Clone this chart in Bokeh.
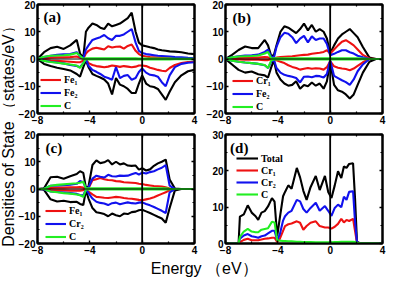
from bokeh.plotting import figure
from bokeh.layouts import row, column
from bokeh.models import (Range1d, FixedTicker, LinearAxis, Span, Label, Legend,
                          LegendItem, CustomJSTickFormatter)
from bokeh.embed import file_html
from bokeh.resources import INLINE

# ---------------- data ----------------
X_TICKS = [-8, -4, 0, 4]
X_MINOR = [-6, -2, 2]
Y_TICKS_SPIN = [-20, -10, 0, 10, 20]
Y_MINOR_SPIN = [-15, -5, 5, 15]
Y_TICKS_D = [0, 10, 20, 30]
Y_MINOR_D = [5, 15, 25]

# panels (a)-(c): common energy grid (eV)
E_ABC = [-8, -7.5, -7, -6.5, -6, -5.5, -5, -4.75, -4.5, -4.3, -4.1, -3.8, -3.5, -3.2,
         -2.9, -2.6, -2.3, -2.0, -1.7, -1.4, -1.1, -0.8, -0.5, -0.25, 0, 0.3, 0.6,
         0.9, 1.2, 1.5, 1.8, 2.1, 2.5, 3, 3.5, 4]

# (a)
a_total_up = [0, 2.5, 4, 4.5, 3.7, 5, 7, 2, 0.5, 10, 11.5, 13, 12.5, 11.5, 11, 13, 12, 12.5,
              13, 14, 15, 17, 10, 6, 5, 4.7, 4.3, 4, 3.5, 3.2, 3, 2.8, 2.7, 2.5, 2, 1.8]
a_total_dn = [0, -1.8, -2.6, -3.2, -3.7, -4.2, -5.5, -6.5, -3, -0.5, -3, -5.5, -6.2, -6.8,
              -7.5, -9, -13, -7, -9.4, -10, -11, -12.5, -12.5, -9, -6, -9, -10, -10.3, -11,
              -13, -15, -12, -8.5, -6, -4.5, -4]
a_fe1_up = [0, 0.3, 0.5, 0.6, 0.6, 0.7, 0.9, 0.5, 0.1, 2, 3, 3.8, 4.1, 3.8, 3.5, 4.7, 4.2,
            4.5, 4.6, 3.8, 4.8, 5.3, 3, 1.8, 1.2, 0.9, 0.7, 0.6, 0.5, 0.5, 0.4, 0.4, 0.3,
            0.3, 0.2, 0.2]
a_fe1_dn = [0, -0.3, -0.6, -0.7, -0.8, -1, -1.2, -1.2, -0.6, 0, -1.5, -2.2, -2.6, -2.8, -3,
            -2.8, -2.4, -2.6, -2.9, -2.6, -2.8, -3, -2.8, -2.4, -2.4, -2.6, -3.2, -3.6, -4,
            -4.3, -4.5, -3.3, -2.2, -1.5, -1.1, -1]
a_fe2_up = [0, 0.7, 1.2, 1.5, 1.7, 1.8, 2.5, 1, 0.3, 3.5, 5, 7, 7.5, 8, 8.8, 7.6, 7, 8.5, 8.5,
            9, 10, 11, 6, 3, 2.2, 1.8, 1.6, 1.4, 1.2, 1.1, 1, 0.9, 0.7, 0.6, 0.4, 0.3]
a_fe2_dn = [0, -0.6, -1, -1.3, -1.6, -2.2, -2.6, -3, -1.5, 0, -2.5, -4, -4.7, -5.5, -6.5, -7,
            -7.6, -3, -7, -6.2, -5.9, -7.6, -7, -4.8, -3.5, -5, -5.8, -6, -6.5, -8.5, -10,
            -6, -3, -1.8, -1.4, -1.2]
a_c_up = [0, 0.8, 1.2, 1.3, 1.4, 1.6, 2.2, 1.2, 0.1, 0.3, 0.3, 0.3, 0.3, 0.3, 0.3, 0.3, 0.3,
          0.3, 0.3, 0.3, 0.3, 0.3, 0.3, 0.2, 0.2, 0.2, 0.2, 0.2, 0.2, 0.2, 0.2, 0.2, 0.1,
          0.1, 0.1, 0.1]
a_c_dn = [0, -0.7, -1.1, -1.4, -1.7, -2, -2.4, -3.3, -1.5, 0, -0.2, -0.2, -0.2, -0.2, -0.2,
          -0.2, -0.2, -0.2, -0.2, -0.2, -0.2, -0.2, -0.2, -0.2, -0.2, -0.2, -0.2, -0.2,
          -0.2, -0.2, -0.2, -0.2, -0.1, -0.1, -0.1, -0.1]

# (b)
b_total_up = [0, 1.5, 3.3, 4.6, 4, 4, 7, 5, 1, 1.5, 5, 10, 12, 11.5, 10.5, 9.5, 11, 13, 10.5,
              12.5, 10, 11, 10, 7.5, 2, 5, 7.5, 9, 10, 11, 9.5, 8, 4.4, 0.5, 0, 0]
b_total_dn = [0, -2, -4, -5, -4.6, -5.6, -6, -6.8, -3, -0.5, -5, -7.5, -9, -9.8, -9.5, -8.2,
              -10.9, -9.5, -10, -8.6, -9.8, -9, -10.9, -8.2, -1, -9.5, -11.5, -12, -13,
              -14.5, -13, -9.5, -5, -1, 0, 0]
b_cr1_up = [0, 0.2, 0.4, 0.5, 0.5, 0.5, 0.7, 0.6, 0.1, 0.2, 0.5, 0.7, 0.8, 0.9, 1, 1.2, 1.4,
            1.5, 1.6, 1.9, 2.1, 2.3, 2.6, 3.2, 2, 3.5, 5, 6.3, 6.9, 6, 5, 3.5, 1.5, 0.2, 0, 0]
b_cr1_dn = [0, -0.1, -0.2, -0.3, -0.3, -0.3, -0.4, -0.4, -0.1, 0, -0.5, -1, -1.5, -2.3, -2.9,
            -3.3, -3.9, -3.6, -3.3, -3.6, -3.4, -3.5, -3.9, -3, -0.8, -2.7, -3.2, -3.5, -3.7,
            -4.1, -3.5, -2.5, -1.2, 0, 0, 0]
b_fe2_up = [0, 0.6, 1, 1.3, 1.4, 1.6, 2.6, 3.4, 0.8, 0.5, 4.5, 8, 9.6, 9.3, 8, 5.8, 7.5, 8.5,
            6.1, 8.3, 7, 7.5, 7.5, 5.5, 1.4, 1.9, 2.6, 3.2, 3.2, 2.5, 2, 1.2, 0.6, 0, 0, 0]
b_fe2_dn = [0, -0.6, -1, -1.3, -1.5, -1.8, -2.3, -3.3, -1, -0.3, -3.3, -5, -5.8, -6.2, -6.5,
            -7, -8.6, -6.5, -6.4, -6.7, -6.2, -6.3, -6.8, -5.5, -0.5, -6.2, -7, -7.8, -8.5,
            -9.5, -7.5, -4.5, -2, 0, 0, 0]
b_c_up = [0, 0.6, 0.9, 1, 1.1, 1.3, 2, 2.6, 0.2, 0.3, 0.3, 0.3, 0.3, 0.3, 0.3, 0.3, 0.3, 0.3,
          0.3, 0.3, 0.3, 0.3, 0.3, 0.3, 0.3, 0.3, 0.3, 0.3, 0.3, 0.3, 0.3, 0.3, 0.2, 0, 0, 0]
b_c_dn = [0, -0.6, -1, -1.3, -1.5, -1.8, -2.2, -3.3, -0.5, -0.2, -0.2, -0.2, -0.2, -0.2, -0.2,
          -0.2, -0.2, -0.2, -0.2, -0.2, -0.2, -0.2, -0.2, -0.2, -0.2, -0.2, -0.2, -0.2, -0.2,
          -0.2, -0.2, -0.2, -0.1, 0, 0, 0]

# (c)
c_total_up = [0, 0.3, 4.3, 4.5, 3.8, 4.7, 5.5, 6.5, 5.9, 0.5, 1, 8.8, 10.5, 9.5, 9.8, 10.6, 9,
              10, 9, 9.4, 8.6, 8.5, 8.6, 7.1, 7.6, 6.8, 7.2, 8.5, 9.4, 10, 10.8, 3.5, 0.2, 0,
              0, 0]
c_total_dn = [0, -0.3, -3.8, -4.6, -4.3, -4.8, -4.7, -5.5, -5.9, -0.5, -3.5, -7, -8.5, -8.8,
              -9.2, -10, -9, -9.6, -10, -9, -9.2, -8.5, -8.3, -7.8, -7.6, -8.2, -8.8, -9.5,
              -10.2, -10.8, -12.4, -7, -0.5, 0, 0, 0]
c_fe1_up = [0, 0, 0.4, 0.5, 0.5, 0.6, 0.6, 0.7, 0.5, 0, 0.3, 3.2, 3.6, 4, 3.6, 3.3, 3.2, 2.9,
            2.8, 2.5, 2.4, 2.3, 2.2, 1.9, 1.8, 1.5, 1.3, 1.1, 1, 0.9, 0.6, 0.2, 0, 0, 0, 0]
c_fe1_dn = [0, 0, -0.4, -0.5, -0.5, -0.6, -0.6, -0.6, -0.4, 0, -1, -2, -2.9, -3, -3.2, -3.3,
            -3.1, -2.9, -3, -3.3, -3.5, -3.6, -3.8, -4, -4.1, -3.8, -3.5, -3, -2.4, -1.8,
            -1.2, -0.4, 0, 0, 0, 0]
c_cr2_up = [0, 0.1, 1.2, 1.3, 1.4, 1.6, 1.9, 2.9, 2.5, 0.2, 0.6, 3.8, 4.9, 4.5, 4.2, 5.2, 4.7,
            4.6, 4.9, 4.8, 4.9, 5.4, 5.9, 5.3, 6, 5.7, 6.2, 6.5, 7.2, 7.8, 8.8, 1.2, 0, 0, 0, 0]
c_cr2_dn = [0, -0.1, -0.9, -1.1, -1.3, -1.5, -1.8, -2.2, -2.4, -0.2, -1.5, -3.5, -4.7, -5.1,
            -5.3, -5.9, -5.2, -5, -5.6, -5.2, -4.9, -5.2, -5.3, -5, -4.9, -5.5, -6, -6.6,
            -7.3, -8, -8.8, -1.2, 0, 0, 0, 0]
c_c_up = [0, 0.1, 1.2, 1.5, 1.7, 1.9, 2.1, 2.3, 2.7, 0.2, 0.3, 0.3, 0.3, 0.3, 0.3, 0.3, 0.3,
          0.3, 0.3, 0.3, 0.3, 0.3, 0.3, 0.3, 0.3, 0.3, 0.3, 0.3, 0.3, 0.3, 0.3, 0.1, 0, 0, 0, 0]
c_c_dn = [0, 0, -0.9, -1.2, -1.5, -1.7, -2, -2.3, -2.9, -0.2, -0.2, -0.2, -0.2, -0.2, -0.2,
          -0.2, -0.2, -0.2, -0.2, -0.2, -0.2, -0.2, -0.2, -0.2, -0.2, -0.2, -0.2, -0.2, -0.2,
          -0.2, -0.2, -0.1, 0, 0, 0, 0]

# (d): non spin-polarised
E_D = [-8, -7.0, -6.9, -6.6, -6.3, -6.0, -5.7, -5.5, -5.25, -5.0, -4.75, -4.45, -4.25, -4.05,
       -3.85, -3.6, -3.45, -3.2, -2.95, -2.55, -2.3, -2.05, -1.8, -1.5, -1.1, -0.8, -0.4,
       -0.15, 0.1, 0.35, 0.6, 0.85, 1.05, 1.25, 1.45, 1.75, 1.9, 2.05, 2.3, 4]
d_total = [0, 0, 7.4, 8, 10.5, 8.5, 7.5, 6.5, 8.5, 8.9, 10.2, 12.5, 11.5, 2, 7, 13, 14.2, 16,
           15.1, 20.8, 18.2, 14.5, 12, 15.5, 18.6, 14.7, 18.6, 14.2, 12.5, 16, 19.9, 18, 21.2,
           20.8, 21.9, 22.1, 12.5, 0.5, 0, 0]
d_cr1 = [0, 0, 0.4, 1, 1.3, 0.9, 0.9, 0.9, 1.1, 1.3, 1.4, 1.6, 1.6, 0.4, 1.3, 3.5, 4.8, 5.3,
         5.5, 6.1, 5.7, 3.8, 4.8, 5.7, 6.1, 4.8, 4.4, 4.4, 4.1, 4.6, 5.4, 6.8, 5.8, 6.5, 6.2,
         6.8, 3.5, 0.2, 0, 0]
d_cr2 = [0, 0, 1.3, 2.2, 2.6, 2, 1.8, 1.6, 2, 2.2, 2.8, 3.5, 3.5, 0.9, 2.5, 6.3, 7.5, 8.5, 9,
         12, 11.6, 9.5, 8.5, 9.8, 11.2, 9, 10.3, 9, 7.6, 9.8, 10.7, 10, 12.9, 12, 14.2, 14.4,
         6, 0.3, 0, 0]
d_c = [0, 0, 1.8, 3.3, 4, 3.3, 3.1, 3.1, 3.8, 4, 4.2, 6, 5.8, 0.9, 0.8, 0.7, 0.7, 0.6, 0.6,
       0.5, 0.5, 0.4, 0.4, 0.4, 0.3, 0.3, 0.3, 0.3, 0.3, 0.4, 0.4, 0.5, 0.5, 0.5, 0.5, 0.5,
       0.4, 0.2, 0.1, 0]

# ---------------- style ----------------
BLACK, RED, BLUE, GREEN = "#000000", "#ee1111", "#1111ee", "#22ee22"
TICK_FONT = "Liberation Sans"
SERIF = "Liberation Serif"
LW = 2.1


def style_axis(ax, ticks, minor, labels):
    ax.ticker = FixedTicker(ticks=ticks, minor_ticks=minor)
    ax.major_tick_in = 3
    ax.major_tick_out = 0
    ax.minor_tick_in = 2
    ax.minor_tick_out = 0
    ax.major_tick_line_color = "black"
    ax.minor_tick_line_color = "black"
    ax.major_tick_line_width = 1.4
    ax.minor_tick_line_width = 1.2
    ax.axis_line_color = "black"
    ax.axis_line_width = 2
    if labels:
        ax.major_label_text_font = TICK_FONT
        ax.major_label_text_font_style = "bold"
        ax.major_label_text_font_size = "10px"
        ax.major_label_text_color = "black"
        ax.major_label_standoff = 2
    else:
        ax.formatter = CustomJSTickFormatter(code="return ''")
        ax.major_label_text_font_size = "0px"
        ax.major_label_standoff = 0


def make_panel(tag, tag_xy, E, curves, yr, yt, ym, leg_loc, glyph_w, row_h,
               bl, br, bt, bb, zero_h=True):
    p = figure(frame_width=157, frame_height=109, x_range=Range1d(-8, 4),
               y_range=Range1d(*yr), min_border_left=bl, min_border_right=br,
               min_border_top=bt, min_border_bottom=bb, output_backend="svg",
               toolbar_location=None)
    p.grid.visible = False
    p.outline_line_color = "black"
    p.outline_line_width = 2
    p.outline_line_alpha = 1.0
    top_ax = LinearAxis()
    right_ax = LinearAxis()
    p.add_layout(top_ax, "above")
    p.add_layout(right_ax, "right")
    style_axis(p.below[0], X_TICKS, X_MINOR, True)
    style_axis(p.left[0], yt, ym, True)
    style_axis(top_ax, X_TICKS, X_MINOR, False)
    style_axis(right_ax, yt, ym, False)

    if zero_h:
        p.add_layout(Span(location=0, dimension="width", line_color="black", line_width=1))
    p.add_layout(Span(location=0, dimension="height", line_color="black", line_width=1.8))

    items = []
    for name, color, ys in curves:
        first = None
        for y in ys:
            r = p.line(E, y, line_color=color, line_width=LW)
            if first is None:
                first = r
        if name:
            items.append(LegendItem(label=name, renderers=[first]))

    leg = Legend(items=items, location=leg_loc, background_fill_alpha=0,
                 border_line_alpha=0, padding=0, spacing=0, margin=0,
                 glyph_width=glyph_w, glyph_height=row_h, label_height=row_h,
                 label_standoff=3, label_text_font=SERIF, label_text_font_style="bold",
                 label_text_font_size="10px", label_text_color="black")
    p.add_layout(leg)

    p.add_layout(Label(x=tag_xy[0], y=tag_xy[1], text=tag, text_font=SERIF,
                       text_font_style="bold", text_font_size="15px",
                       text_baseline="top", text_align="left", text_color="black"))
    return p


pa = make_panel("(a)", (-7.54, 18.5), E_ABC,
                [(None, BLACK, [a_total_up, a_total_dn]),
                 ("Fe\u2081", RED, [a_fe1_up, a_fe1_dn]),
                 ("Fe\u2082", BLUE, [a_fe2_up, a_fe2_dn]),
                 ("C", GREEN, [a_c_up, a_c_dn])],
                (-20, 20), Y_TICKS_SPIN, Y_MINOR_SPIN, (3, 1), 21, 13,
                21, 4, 4, 16)
pb = make_panel("(b)", (-7.46, 17.8), E_ABC,
                [(None, BLACK, [b_total_up, b_total_dn]),
                 ("Cr\u2081", RED, [b_cr1_up, b_cr1_dn]),
                 ("Fe\u2082", BLUE, [b_fe2_up, b_fe2_dn]),
                 ("C", GREEN, [b_c_up, b_c_dn])],
                (-20, 20), Y_TICKS_SPIN, Y_MINOR_SPIN, (7, 0), 21, 13,
                27, 4, 4, 16)
pc = make_panel("(c)", (-7.39, 17.8), E_ABC,
                [(None, BLACK, [c_total_up, c_total_dn]),
                 ("Fe\u2081", RED, [c_fe1_up, c_fe1_dn]),
                 ("Cr\u2082", BLUE, [c_cr2_up, c_cr2_dn]),
                 ("C", GREEN, [c_c_up, c_c_dn])],
                (-20, 20), Y_TICKS_SPIN, Y_MINOR_SPIN, (8, 0), 21, 13,
                21, 4, 5, 14)
pd = make_panel("(d)", (-7.65, 28.6), E_D,
                [("Total", BLACK, [d_total]),
                 ("Cr\u2081", RED, [d_cr1]),
                 ("Cr\u2082", BLUE, [d_cr2]),
                 ("C", GREEN, [d_c])],
                (0, 30), Y_TICKS_D, Y_MINOR_D, (11, 43), 22, 12,
                27, 4, 5, 14, zero_h=False)

ylab = figure(width=15, height=278, x_range=Range1d(0, 1), y_range=Range1d(0, 1),
              x_axis_type=None, y_axis_type=None, min_border=0, output_backend="svg",
              toolbar_location=None, outline_line_color=None)
ylab.add_layout(Label(x=0.5, y=0.525, text="Densities of State \uff08states/eV\uff09",
                      angle=90, angle_units="deg", text_align="center",
                      text_baseline="middle", text_font="Liberation Sans",
                      text_font_size="16px", text_color="black"))

xlab = figure(width=370, height=21, x_range=Range1d(0, 1), y_range=Range1d(0, 1),
              x_axis_type=None, y_axis_type=None, min_border=0, output_backend="svg",
              toolbar_location=None, outline_line_color=None)
xlab.add_layout(Label(x=0.51, y=0.5, text="Energy \uff08eV\uff09", text_align="center",
                      text_baseline="middle", text_font="Liberation Sans",
                      text_font_size="16px", text_color="black"))

layout = row(ylab, column(row(pa, pb), row(pc, pd), xlab))

open("out.html", "w").write(file_html(layout, INLINE))
